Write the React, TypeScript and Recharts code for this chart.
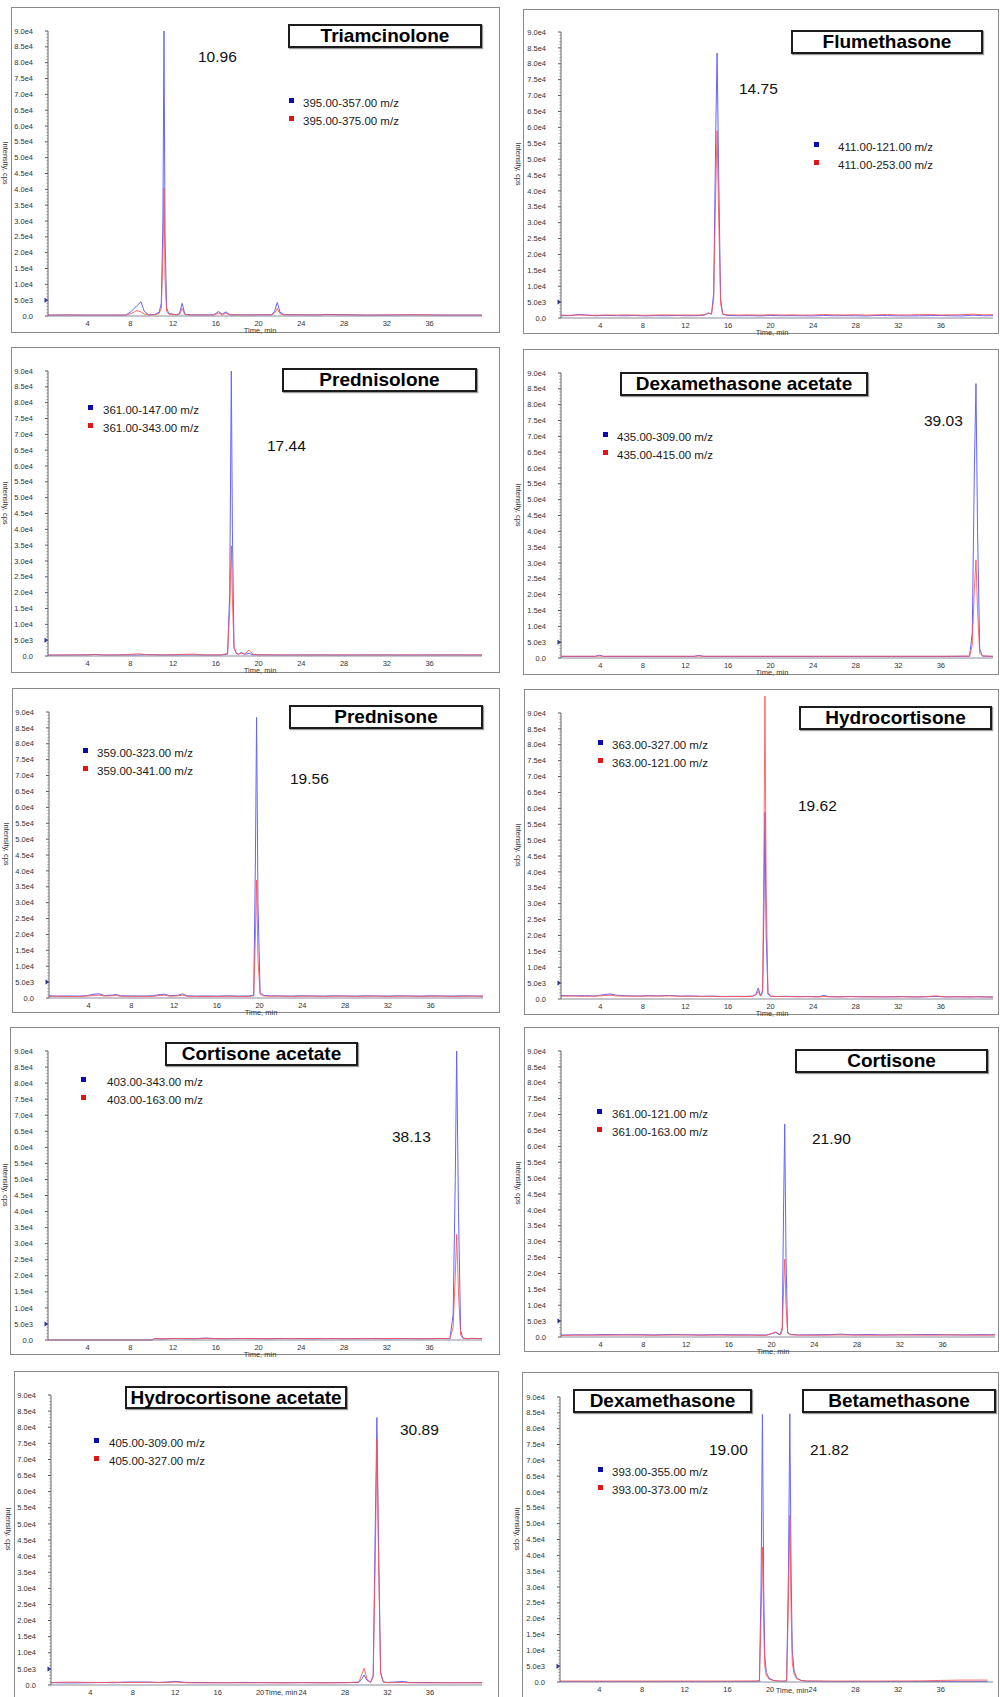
import React from 'react';
import { LineChart, Line, XAxis, YAxis, Legend, ReferenceDot } from 'recharts';

const FONT = '"Liberation Sans", Arial, Helvetica, sans-serif';
const BLUE = '#6464ff';
const RED = '#ff5050';
const LEGEND_COLORS: Record<string, string> = { blue: '#0b0bb0', red: '#e01414' };
const SERIES_ORDER = ['blue', 'red'];

// ---- axis ticks ----
const yTicks = [0, 5000, 10000, 15000, 20000, 25000, 30000, 35000, 40000, 45000, 50000, 55000, 60000, 65000, 70000, 75000, 80000, 85000, 90000];
const yTickLabels = ['0.0', '5.0e3', '1.0e4', '1.5e4', '2.0e4', '2.5e4', '3.0e4', '3.5e4', '4.0e4', '4.5e4', '5.0e4', '5.5e4', '6.0e4', '6.5e4', '7.0e4', '7.5e4', '8.0e4', '8.5e4', '9.0e4'];
const xTicks = [4, 8, 12, 16, 20, 24, 28, 32, 36];
const timeDomain = [0.3, 40.9];
const thresholdMarker = 5000;

// ---- compounds ----
const compoundTitles = ['Triamcinolone', 'Flumethasone', 'Prednisolone', 'Dexamethasone acetate', 'Prednisone', 'Hydrocortisone', 'Cortisone acetate', 'Cortisone', 'Hydrocortisone acetate', 'Dexamethasone', 'Betamethasone'];
const retentionLabels = ['10.96', '14.75', '17.44', '39.03', '19.56', '19.62', '38.13', '21.90', '30.89', '19.00', '21.82'];

// ---- Triamcinolone ----
const triamMz = ['395.00-357.00 m/z', '395.00-375.00 m/z'];
const triamTime = [0.3, 2, 3.9, 6, 7.6, 8.1, 8.6, 9.0, 9.3, 9.7, 10.3, 10.7, 10.9, 11.05, 11.15, 11.25, 11.4, 11.6, 12.3, 12.6, 12.85, 13.1, 13.6, 15.8, 16.25, 16.6, 16.95, 17.3, 18.5, 21.2, 21.5, 21.75, 22.0, 22.4, 25.8, 26.2, 30, 34.5, 38, 40.9];
const triamBlue = [300, 350, 300, 300, 320, 1500, 3200, 4500, 1500, 400, 500, 1200, 4000, 30000, 90000, 25000, 2500, 800, 400, 700, 4000, 600, 350, 350, 1400, 600, 1300, 400, 350, 400, 1500, 4300, 1200, 400, 350, 500, 300, 350, 300, 300];
const triamRed = [250, 300, 250, 250, 280, 800, 1700, 1300, 600, 350, 400, 800, 2500, 18000, 40500, 12000, 1500, 600, 350, 500, 2400, 450, 300, 300, 900, 400, 900, 350, 300, 350, 900, 2400, 700, 350, 300, 400, 250, 400, 250, 250];

// ---- Flumethasone ----
const flumMz = ['411.00-121.00 m/z', '411.00-253.00 m/z'];
const flumTime = [0.3, 1.2, 1.9, 2.5, 3.5, 4.5, 5.5, 6.3, 7.2, 8.2, 9.2, 10.2, 11.2, 12.2, 13.2, 13.8, 14.15, 14.45, 14.65, 14.85, 14.97, 15.1, 15.3, 15.5, 15.9, 17, 18, 19, 20, 21, 22, 23, 24, 25, 26, 27, 28, 29, 30, 31, 32, 33, 34, 35, 36, 37, 38, 39, 40, 40.9];
const flumBlue = [700, 750, 1100, 1000, 700, 800, 750, 700, 800, 650, 750, 700, 800, 700, 750, 900, 1500, 1200, 8000, 60000, 83400, 50000, 6000, 1200, 800, 700, 750, 650, 800, 700, 750, 700, 650, 800, 700, 750, 700, 650, 800, 750, 700, 650, 700, 750, 800, 700, 650, 900, 700, 750];
const flumRed = [900, 850, 950, 900, 850, 950, 900, 1000, 900, 850, 950, 1000, 900, 950, 900, 1100, 1600, 1300, 6000, 42000, 58900, 35000, 4500, 1300, 1000, 950, 1000, 900, 1050, 950, 1000, 900, 950, 1100, 1000, 950, 1050, 900, 1000, 1100, 950, 1000, 1050, 1100, 950, 1000, 1050, 1200, 1000, 1050];

// ---- Prednisolone ----
const predlMz = ['361.00-147.00 m/z', '361.00-343.00 m/z'];
const predlTime = [0.3, 2, 4, 4.6, 5.5, 7, 8.8, 9.5, 11, 13.9, 15, 16.5, 17.1, 17.3, 17.45, 17.55, 17.7, 17.9, 18.1, 18.4, 18.7, 19.1, 19.5, 20, 22, 25, 28, 31, 34, 37, 40.9];
const predlBlue = [250, 300, 350, 500, 300, 350, 300, 450, 300, 350, 300, 300, 600, 20000, 90000, 40000, 3000, 900, 500, 1100, 500, 800, 400, 350, 300, 350, 300, 350, 300, 350, 300];
const predlRed = [300, 350, 350, 450, 350, 300, 700, 400, 350, 600, 350, 350, 800, 15000, 34800, 18000, 2500, 1000, 600, 900, 600, 1800, 500, 400, 350, 300, 350, 300, 350, 300, 350];

// ---- Dexamethasone acetate ----
const dexacMz = ['435.00-309.00 m/z', '435.00-415.00 m/z'];
const dexacTime = [0.3, 3.5, 3.9, 4.3, 8, 12.8, 13.3, 13.7, 18, 24, 30, 36, 38.7, 38.95, 39.15, 39.3, 39.45, 39.65, 39.9, 40.9];
const dexacBlue = [500, 500, 900, 500, 500, 500, 850, 500, 500, 500, 500, 500, 550, 8000, 60000, 86650, 40000, 3000, 600, 500];
const dexacRed = [550, 550, 600, 550, 550, 550, 600, 550, 550, 550, 550, 550, 600, 4000, 22000, 31000, 15000, 1500, 650, 550];

// ---- Prednisone ----
const prednMz = ['359.00-323.00 m/z', '359.00-341.00 m/z'];
const prednTime = [0.3, 1, 2, 3, 3.8, 4.5, 5.0, 5.5, 6.2, 6.6, 7.0, 8, 9, 10, 10.7, 11.1, 11.6, 12.4, 12.8, 13.2, 14, 15, 16, 17, 18, 19, 19.45, 19.6, 19.72, 19.85, 20.05, 20.4, 21, 22, 23, 24, 25, 26, 27, 28, 29, 30, 31, 32, 33, 34, 35, 36, 37, 38, 39, 40, 40.9];
const prednBlue = [700, 600, 650, 600, 700, 1200, 1300, 800, 900, 1100, 700, 650, 600, 700, 1100, 1200, 700, 900, 1300, 700, 600, 650, 600, 700, 600, 650, 900, 40000, 88300, 30000, 1500, 800, 700, 650, 600, 700, 650, 600, 700, 650, 600, 700, 650, 600, 700, 650, 600, 700, 650, 600, 700, 650, 600];
const prednRed = [500, 550, 500, 450, 600, 800, 900, 600, 700, 800, 550, 500, 550, 500, 800, 900, 550, 700, 900, 550, 500, 450, 500, 550, 500, 450, 700, 18000, 37100, 12000, 1200, 650, 550, 600, 500, 550, 600, 500, 550, 600, 500, 550, 600, 500, 550, 600, 500, 550, 600, 500, 550, 600, 500];

// ---- Hydrocortisone ----
const hydroMz = ['363.00-327.00 m/z', '363.00-121.00 m/z'];
const hydroTime = [0.3, 1.5, 2.5, 3.5, 4.4, 4.9, 5.5, 6.5, 7.5, 8.5, 9.5, 10.5, 11.5, 12.5, 13.5, 14.5, 15.5, 16.5, 17.5, 18.3, 18.6, 18.84, 19.05, 19.25, 19.38, 19.47, 19.58, 19.75, 20.0, 20.5, 21.5, 22.5, 23.5, 24.5, 25.0, 25.5, 26.5, 27.5, 28.5, 29.5, 30.5, 31.5, 32.5, 33.5, 34.5, 35.5, 36.5, 37.5, 38.5, 39.5, 40.5, 40.9];
const hydroBlue = [1100, 1000, 1050, 950, 1400, 1600, 1200, 1000, 950, 1050, 1000, 1100, 900, 950, 850, 900, 800, 850, 800, 900, 1500, 3450, 1000, 2000, 30000, 58700, 20000, 1500, 900, 800, 850, 750, 800, 700, 1100, 750, 700, 800, 700, 750, 650, 700, 750, 650, 700, 800, 650, 700, 650, 700, 650, 600];
const hydroRed = [900, 950, 850, 900, 1100, 1200, 950, 900, 850, 950, 900, 1000, 850, 900, 800, 850, 750, 800, 750, 850, 1200, 2400, 900, 3000, 50000, 95300, 35000, 2000, 900, 750, 800, 700, 750, 650, 800, 700, 650, 750, 700, 650, 700, 650, 700, 650, 700, 1000, 650, 700, 650, 700, 600, 600];

// ---- Cortisone acetate ----
const cortacMz = ['403.00-343.00 m/z', '403.00-163.00 m/z'];
const cortacTime = [0.3, 5, 10, 10.3, 11, 12, 13, 14, 15, 16, 17, 18, 19, 20, 21, 22, 23, 24, 25, 26, 27, 28, 29, 30, 31, 32, 33, 34, 35, 36, 37, 37.9, 38.2, 38.4, 38.53, 38.7, 38.9, 39.1, 39.5, 40, 40.9];
const cortacBlue = [0, 0, 0, 400, 300, 500, 350, 400, 600, 450, 350, 500, 400, 450, 350, 500, 400, 450, 350, 400, 500, 350, 450, 400, 500, 350, 400, 450, 350, 400, 450, 400, 8000, 50000, 90000, 40000, 3000, 600, 400, 500, 400];
const cortacRed = [0, 0, 0, 500, 400, 450, 500, 350, 500, 400, 450, 400, 500, 400, 450, 400, 500, 400, 450, 500, 400, 450, 400, 500, 400, 450, 500, 400, 450, 400, 500, 450, 4000, 20000, 32900, 15000, 1500, 600, 450, 500, 450];

// ---- Cortisone ----
const cortMz = ['361.00-121.00 m/z', '361.00-163.00 m/z'];
const cortTime = [0.3, 1.5, 3, 4.5, 6, 7.5, 9, 10.5, 12, 13.5, 15, 16.5, 18, 19.5, 20.4, 20.8, 21.0, 21.12, 21.23, 21.35, 21.5, 21.8, 22.5, 24, 25.5, 26.5, 27.5, 29, 30.5, 32, 33.5, 35, 36.5, 38, 39.5, 40.9];
const cortBlue = [600, 700, 650, 800, 700, 750, 650, 800, 700, 650, 750, 700, 650, 600, 1400, 700, 3000, 40000, 67000, 25000, 1500, 800, 650, 700, 750, 900, 700, 800, 650, 700, 750, 800, 700, 650, 750, 700];
const cortRed = [500, 550, 600, 550, 650, 600, 550, 600, 650, 550, 600, 550, 600, 500, 1600, 600, 2000, 15000, 24500, 10000, 1200, 700, 600, 550, 600, 650, 600, 550, 600, 650, 600, 550, 650, 600, 550, 600];

// ---- Hydrocortisone acetate ----
const hydacMz = ['405.00-309.00 m/z', '405.00-327.00 m/z'];
const hydacTime = [0.3, 2, 4, 5.2, 6.3, 7, 8, 9.5, 10.5, 12.1, 13, 15, 17, 18.3, 20, 22, 24, 26, 28, 29.3, 29.6, 29.8, 30.05, 30.4, 30.65, 30.85, 31.0, 31.15, 31.35, 31.6, 32, 33.5, 34, 36, 38, 40.9];
const hydacBlue = [700, 650, 700, 800, 700, 900, 950, 900, 800, 1100, 800, 750, 700, 800, 750, 700, 750, 700, 750, 800, 2000, 3100, 1500, 800, 3000, 50000, 83000, 45000, 4000, 1000, 800, 1100, 800, 750, 700, 750];
const hydacRed = [800, 900, 800, 750, 900, 750, 800, 850, 750, 900, 700, 650, 700, 650, 700, 650, 700, 650, 700, 900, 3500, 5200, 2000, 800, 2500, 40000, 76500, 40000, 3500, 900, 700, 800, 700, 650, 700, 650];

// ---- Dexamethasone / Betamethasone ----
const dexbetMz = ['393.00-355.00 m/z', '393.00-373.00 m/z'];
const dexbetTime = [0.3, 4, 8, 12, 16, 18.5, 19.0, 19.15, 19.28, 19.4, 19.5, 19.65, 19.9, 20.3, 20.8, 21.2, 21.55, 21.72, 21.85, 21.97, 22.08, 22.25, 22.5, 22.9, 23.4, 26, 30, 34, 36, 38, 40.4];
const dexbetBlue = [150, 150, 150, 150, 150, 150, 250, 30000, 84500, 30000, 8000, 3000, 1200, 500, 250, 200, 250, 35000, 84700, 35000, 10000, 3500, 1300, 500, 250, 150, 150, 150, 150, 150, 150];
const dexbetRed = [300, 300, 300, 300, 300, 350, 400, 20000, 42600, 18000, 5000, 2000, 900, 500, 350, 300, 400, 25000, 52600, 22000, 6000, 2500, 1000, 500, 350, 300, 300, 350, 500, 600, 600];

type TitleBox = { text: string; x1: number; x2: number; y1: number; y2: number };
type PeakLbl = { text: string; x: number; y: number };
type PanelDef = {
  time: number[]; blue: number[]; red: number[]; mz: string[];
  box: [number, number, number, number]; axisX: number; plotR: number; y90: number; y0: number; yMax: number;
  titles: TitleBox[]; peaks: PeakLbl[]; legend: { sqX: number; textX: number; y: number };
  timeLbl?: { x: number; y: number };
};

const panels: PanelDef[] = [
  { time: triamTime, blue: triamBlue, red: triamRed, mz: triamMz, box: [11, 7, 500, 333], axisX: 48, plotR: 482, y90: 31, y0: 316, yMax: 90000,
    titles: [{ text: compoundTitles[0], x1: 288, x2: 482, y1: 24, y2: 48 }], peaks: [{ text: retentionLabels[0], x: 198, y: 57 }], legend: { sqX: 289, textX: 303, y: 103 } },
  { time: flumTime, blue: flumBlue, red: flumRed, mz: flumMz, box: [523, 9, 999, 334], axisX: 561, plotR: 993, y90: 32, y0: 318, yMax: 90000,
    titles: [{ text: compoundTitles[1], x1: 791, x2: 983, y1: 30, y2: 54 }], peaks: [{ text: retentionLabels[1], x: 739, y: 89 }], legend: { sqX: 814, textX: 838, y: 147 } },
  { time: predlTime, blue: predlBlue, red: predlRed, mz: predlMz, box: [11, 347, 500, 673], axisX: 48, plotR: 482, y90: 371, y0: 656, yMax: 90000,
    titles: [{ text: compoundTitles[2], x1: 282, x2: 477, y1: 368, y2: 392 }], peaks: [{ text: retentionLabels[2], x: 267, y: 446 }], legend: { sqX: 88, textX: 103, y: 410 } },
  { time: dexacTime, blue: dexacBlue, red: dexacRed, mz: dexacMz, box: [523, 349, 999, 675], axisX: 561, plotR: 993, y90: 373, y0: 658, yMax: 90000,
    titles: [{ text: compoundTitles[3], x1: 620, x2: 868, y1: 372, y2: 396 }], peaks: [{ text: retentionLabels[3], x: 924, y: 421 }], legend: { sqX: 603, textX: 617, y: 437 } },
  { time: prednTime, blue: prednBlue, red: prednRed, mz: prednMz, box: [12, 688, 500, 1013], axisX: 49, plotR: 483, y90: 712, y0: 998, yMax: 90000,
    titles: [{ text: compoundTitles[4], x1: 289, x2: 483, y1: 705, y2: 729 }], peaks: [{ text: retentionLabels[4], x: 290, y: 779 }], legend: { sqX: 83, textX: 97, y: 753 } },
  { time: hydroTime, blue: hydroBlue, red: hydroRed, mz: hydroMz, box: [524, 689, 999, 1015], axisX: 561, plotR: 993, y90: 713, y0: 999, yMax: 96000,
    titles: [{ text: compoundTitles[5], x1: 799, x2: 992, y1: 706, y2: 730 }], peaks: [{ text: retentionLabels[5], x: 798, y: 806 }], legend: { sqX: 598, textX: 612, y: 745 } },
  { time: cortacTime, blue: cortacBlue, red: cortacRed, mz: cortacMz, box: [10, 1027, 500, 1355], axisX: 48, plotR: 482, y90: 1051, y0: 1340, yMax: 90000,
    titles: [{ text: compoundTitles[6], x1: 165, x2: 358, y1: 1042, y2: 1066 }], peaks: [{ text: retentionLabels[6], x: 392, y: 1137 }], legend: { sqX: 81, textX: 107, y: 1082 } },
  { time: cortTime, blue: cortBlue, red: cortRed, mz: cortMz, box: [524, 1027, 999, 1352], axisX: 561, plotR: 995, y90: 1051, y0: 1337, yMax: 90000,
    titles: [{ text: compoundTitles[7], x1: 795, x2: 988, y1: 1049, y2: 1073 }], peaks: [{ text: retentionLabels[7], x: 812, y: 1139 }], legend: { sqX: 597, textX: 612, y: 1114 } },
  { time: hydacTime, blue: hydacBlue, red: hydacRed, mz: hydacMz, box: [14, 1371, 499, 1712], axisX: 51, plotR: 482, y90: 1395, y0: 1685, yMax: 90000,
    titles: [{ text: compoundTitles[8], x1: 125, x2: 347, y1: 1386, y2: 1409 }], peaks: [{ text: retentionLabels[8], x: 400, y: 1430 }], legend: { sqX: 94, textX: 109, y: 1443 },
    timeLbl: { x: 281, y: 1692 } },
  { time: dexbetTime, blue: dexbetBlue, red: dexbetRed, mz: dexbetMz, box: [522, 1372, 999, 1712], axisX: 560, plotR: 993, y90: 1397, y0: 1682, yMax: 90000,
    titles: [{ text: compoundTitles[9], x1: 573, x2: 752, y1: 1389, y2: 1413 }, { text: compoundTitles[10], x1: 802, x2: 996, y1: 1389, y2: 1413 }],
    peaks: [{ text: retentionLabels[9], x: 709, y: 1450 }, { text: retentionLabels[10], x: 810, y: 1450 }], legend: { sqX: 598, textX: 612, y: 1472 },
    timeLbl: { x: 792, y: 1690 } },
];

function YTick(props: any) {
  const { x, y, payload, step } = props;
  const v = payload.value;
  const idx = yTicks.indexOf(v);
  const lbl = idx >= 0 ? yTickLabels[idx] : '';
  const minors = v < 90000 ? [1, 2, 3, 4] : [];
  return (
    <g>
      <text x={x - 15} y={y} dy="0.35em" textAnchor="end" fontSize={7.5} fill="#333" fontFamily={FONT}>{lbl}</text>
      <line x1={x - 3} x2={x} y1={y} y2={y} stroke="#555" strokeWidth={1} />
      {v < 90000 && <line x1={x} x2={x} y1={y} y2={y - step} stroke="#666" strokeWidth={1} />}
      {minors.map((k) => (
        <line key={k} x1={x - 1.6} x2={x} y1={y - (k * step) / 5} y2={y - (k * step) / 5} stroke="#888" strokeWidth={0.8} />
      ))}
    </g>
  );
}

function XTick(props: any) {
  const { x, y, payload } = props;
  return (
    <text x={x} y={y + 9.8} textAnchor="middle" fontSize={7.5} fill="#333" fontFamily={FONT}>{payload.value}</text>
  );
}

function LegendBox({ payload, textOff }: any) {
  const items = [...(payload || [])].sort(
    (a: any, b: any) => SERIES_ORDER.indexOf(a.dataKey) - SERIES_ORDER.indexOf(b.dataKey)
  );
  return (
    <div style={{ fontFamily: FONT, fontSize: 11.5, color: '#1a1a1a' }}>
      {items.map((e: any, i: number) => (
        <div key={i} style={{ position: 'relative', height: 18, whiteSpace: 'nowrap' }}>
          <span style={{ position: 'absolute', left: 0, top: 4, width: 5, height: 5, background: LEGEND_COLORS[e.dataKey] || e.color }} />
          <span style={{ position: 'absolute', left: textOff, top: 0, lineHeight: '18px' }}>{e.value}</span>
        </div>
      ))}
    </div>
  );
}

function Panel({ p }: { p: PanelDef }) {
  const [bl, bt, br, bb] = p.box;
  const W = br - bl;
  const H = bb - bt;
  const plotTop = p.y0 - ((p.y0 - p.y90) * p.yMax) / 90000;
  // axes take 1px each (YAxis width, XAxis height)
  const margin = { top: plotTop - bt, left: p.axisX - bl - 1, right: br - p.plotR, bottom: bb - p.y0 - 1 };
  const data = p.time.map((t, i) => ({ t, blue: p.blue[i], red: p.red[i] }));
  const step = (p.y0 - p.y90) / 18;
  const plotMidX = (p.axisX + p.plotR) / 2;
  const plotMidY = (p.y90 + p.y0) / 2;
  const tl = p.timeLbl || { x: plotMidX - 5, y: p.y0 + 14 };
  return (
    <>
      <div style={{ position: 'absolute', left: bl, top: bt, width: W, height: H, border: '1px solid #8a8a8a', boxSizing: 'border-box', background: '#fff' }} />
      <div style={{ position: 'absolute', left: bl, top: bt, width: W, height: H }}>
        <LineChart width={W} height={H} data={data} margin={margin}>
          <XAxis type="number" dataKey="t" domain={timeDomain} ticks={xTicks} interval={0} height={1} tickSize={0} tickMargin={0}
            axisLine={{ stroke: '#8c8c9c', strokeWidth: 1 }} tickLine={false} tick={(tp: any) => <XTick {...tp} />} />
          <YAxis type="number" domain={[0, p.yMax]} ticks={yTicks} interval={0} width={1} tickSize={0} tickMargin={0}
            axisLine={false} tickLine={false} tick={(tp: any) => <YTick {...tp} step={step} />} />
          <Line type="linear" dataKey="blue" name={p.mz[0]} stroke={BLUE} strokeWidth={1} dot={false} activeDot={false} isAnimationActive={false} />
          <Line type="linear" dataKey="red" name={p.mz[1]} stroke={RED} strokeWidth={1} strokeOpacity={0.85} dot={false} activeDot={false} isAnimationActive={false} />
          <ReferenceDot x={timeDomain[0]} y={thresholdMarker} ifOverflow="visible"
            shape={(sp: any) => (
              <polygon points={`${sp.cx - 3.5},${sp.cy - 2.5} ${sp.cx - 3.5},${sp.cy + 2.5} ${sp.cx + 0.5},${sp.cy}`} fill="#1a2ab0" />
            )} />
          <Legend layout="vertical" align="center" verticalAlign="middle"
            wrapperStyle={{ left: p.legend.sqX - bl, top: p.legend.y - 9 - bt, width: 220, height: 36, margin: 0, padding: 0 }}
            content={(lp: any) => <LegendBox payload={lp.payload} textOff={p.legend.textX - p.legend.sqX} />} />
        </LineChart>
      </div>
      {p.titles.map((tb, i) => (
        <div key={'t' + i} style={{ position: 'absolute', left: tb.x1, top: tb.y1, width: tb.x2 - tb.x1, height: tb.y2 - tb.y1, border: '2px solid #1c1c1c', boxSizing: 'border-box', background: '#fff', boxShadow: '1px 1px 1px #9a9a9a', display: 'flex', alignItems: 'center', justifyContent: 'center', fontFamily: FONT, fontWeight: 700, fontSize: 19, color: '#000', whiteSpace: 'nowrap' }}>
          {tb.text}
        </div>
      ))}
      {p.peaks.map((pk, i) => (
        <div key={'p' + i} style={{ position: 'absolute', left: pk.x, top: pk.y - 9, lineHeight: '18px', fontFamily: FONT, fontSize: 15.5, color: '#111', whiteSpace: 'nowrap' }}>
          {pk.text}
        </div>
      ))}
      <div style={{ position: 'absolute', left: p.axisX - 43, top: plotMidY - 11, transform: 'translate(-50%, -50%) rotate(90deg)', fontFamily: FONT, fontSize: 7.5, color: '#333', whiteSpace: 'nowrap' }}>
        Intensity, cps
      </div>
      <div style={{ position: 'absolute', left: tl.x, top: tl.y, transform: 'translate(-50%, -50%)', fontFamily: FONT, fontSize: 7.5, lineHeight: '9px', color: '#333', whiteSpace: 'nowrap' }}>
        Time, min
      </div>
    </>
  );
}

export default function App() {
  return (
    <div style={{ position: 'absolute', left: 0, top: 0, width: 1000, height: 1697, overflow: 'hidden', background: '#fff', fontFamily: FONT }}>
      {panels.map((p, i) => (
        <Panel key={i} p={p} />
      ))}
    </div>
  );
}
